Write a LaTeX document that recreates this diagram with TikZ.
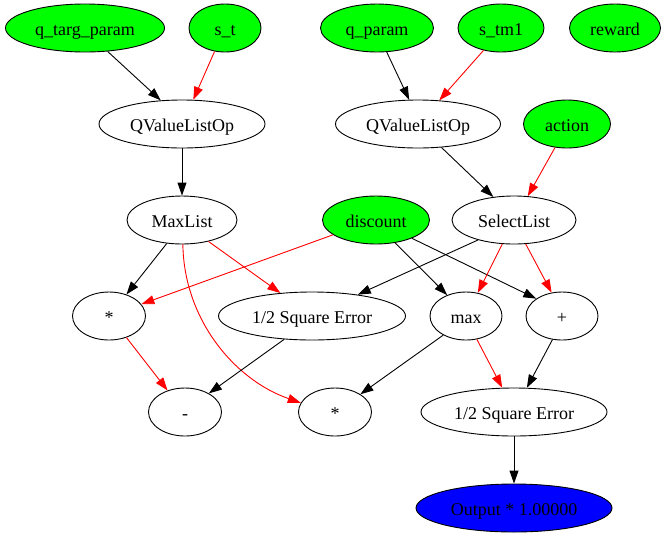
\documentclass[tikz,border=0pt]{standalone}
\usepackage{fontspec}
\setmainfont{Liberation Serif}
\usetikzlibrary{shapes.geometric,arrows.meta}
\definecolor{gvgreen}{RGB}{0,255,0}
\definecolor{gvblue}{RGB}{0,0,255}
\definecolor{gvred}{RGB}{255,0,0}
\begin{document}
\begin{tikzpicture}[x=1pt,y=-1pt,
  op/.style={ellipse,draw,line width=0.9pt,inner sep=0pt,minimum height=48pt,
    text height=18pt,text depth=3pt,font=\fontsize{18}{21}\selectfont},
  inp/.style={op,fill=gvgreen},
  outn/.style={op,fill=gvblue},
  e/.style={-{Triangle[length=13pt,width=9pt]},line width=0.9pt},
  re/.style={e,draw=gvred}]
\useasboundingbox (0,0) rectangle (668,539);
% row 1
\node[inp,minimum width=159pt] (qtp) at (85,28) {q\_targ\_param};
\node[inp,minimum width=72pt] (st) at (225,28) {s\_t};
\node[inp,minimum width=113pt] (qp) at (377,28) {q\_param};
\node[inp,minimum width=86pt] (stm) at (501,28) {s\_tm1};
\node[inp,minimum width=91pt] (rw) at (615,28) {reward};
% row 2
\node[op,minimum width=166pt] (qv1) at (182,124) {QValueListOp};
\node[op,minimum width=165pt] (qv2) at (418,124) {QValueListOp};
\node[inp,minimum width=87pt] (ac) at (567,124) {action};
% row 3
\node[op,minimum width=110pt] (ml) at (182,220) {MaxList};
\node[inp,minimum width=107pt] (dc) at (376,220) {discount};
\node[op,minimum width=124pt] (sl) at (514,220) {SelectList};
% row 4
\node[op,minimum width=73pt] (m1) at (109,316) {*};
\node[op,minimum width=187pt] (sem) at (312,316) {1/2 Square Error};
\node[op,minimum width=72pt] (mx) at (466,316) {max};
\node[op,minimum width=72pt] (pl) at (562,316) {+};
% row 5
\node[op,minimum width=73pt] (mi) at (185,412) {-};
\node[op,minimum width=73pt] (m2) at (335,412) {*};
\node[op,minimum width=186pt] (seb) at (514,412) {1/2 Square Error};
% row 6
\node[outn,minimum width=196pt] (out) at (514,508) {Output * 1.00000};
% edges
\draw[e] (qtp.-46) -- (qv1.132);
\draw[re] (st.-114) -- (qv1.65);
\draw[e] (qp.-68) -- (qv2.110);
\draw[re] (stm.-128) -- (qv2.48);
\draw[e] (qv1.south) -- (ml.north);
\draw[e] (qv2.-45) -- (sl.132);
\draw[re] (ac.-117) -- (sl.60);
\draw[e] (ml.-123) -- (m1.51);
\draw[re] (ml.-39) -- (sem.144);
\draw[re] (ml.-88) .. controls (184,320) and (235,380) .. (m2.165);
\draw[re] (dc.-161) -- (m1.20);
\draw[e] (dc.-50) -- (mx.132);
\draw[e] (dc.-27) -- (pl.146);
\draw[e] (sl.-151) -- (sem.25);
\draw[re] (sl.-116) -- (mx.63);
\draw[re] (sl.-64) -- (pl.114);
\draw[re] (m1.-51) -- (mi.129);
\draw[e] (sem.-140) -- (mi.38);
\draw[e] (mx.-140) -- (m2.35);
\draw[re] (mx.-65) -- (seb.116);
\draw[e] (pl.-112) -- (seb.62);
\draw[e] (seb.south) -- (out.north);
\end{tikzpicture}
\end{document}
